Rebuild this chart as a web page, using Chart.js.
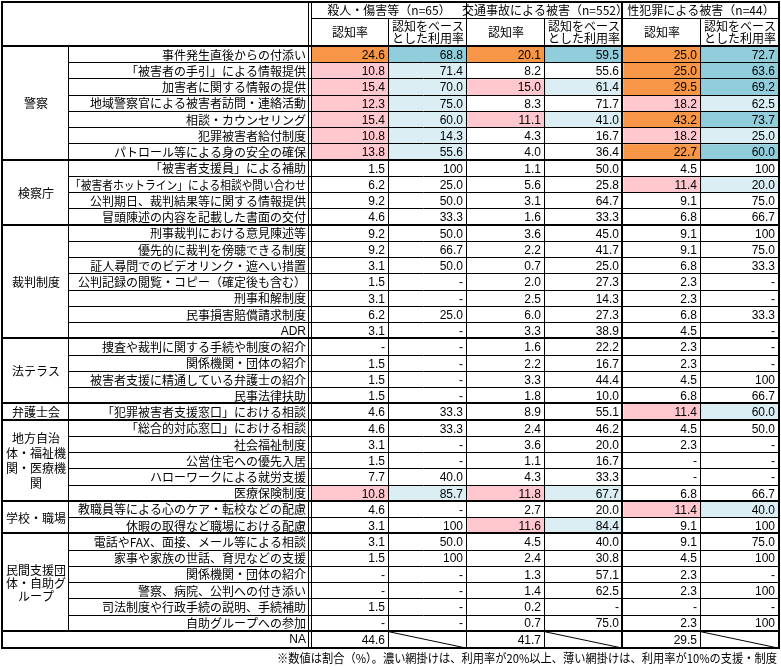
<!DOCTYPE html>
<html lang="ja">
<head>
<meta charset="utf-8">
<script src="https://cdn.jsdelivr.net/npm/chart.js@4.4.0/dist/chart.umd.min.js"></script>
<style>
  html, body { margin: 0; padding: 0; background: #fff; }
  #wrap { width: 781px; height: 667px; }
</style>
</head>
<body>
<div id="wrap"><canvas id="tableChart" width="781" height="667"></canvas></div>
<script>
// left column groups and how many rows each one spans
const groupNames = ["警察", "検察庁", "裁判制度", "法テラス", "弁護士会", "地方自治\n体・福祉機\n関・医療機\n関", "学校・職場", "民間支援団\n体・自助グ\nループ"];
const groupSizes = [7, 4, 7, 4, 1, 5, 2, 6];

const itemLabels = [
    "事件発生直後からの付添い", "「被害者の手引」による情報提供", "加害者に関する情報の提供", "地域警察官による被害者訪問・連絡活動",
    "相談・カウンセリング", "犯罪被害者給付制度", "パトロール等による身の安全の確保",
    "「被害者支援員」による補助", "「被害者ホットライン」による相談や問い合わせ", "公判期日、裁判結果等に関する情報提供", "冒頭陳述の内容を記載した書面の交付",
    "刑事裁判における意見陳述等", "優先的に裁判を傍聴できる制度", "証人尋問でのビデオリンク・遮へい措置", "公判記録の閲覧・コピー（確定後も含む）",
    "刑事和解制度", "民事損害賠償請求制度", "ADR",
    "捜査や裁判に関する手続や制度の紹介", "関係機関・団体の紹介", "被害者支援に精通している弁護士の紹介", "民事法律扶助",
    "「犯罪被害者支援窓口」における相談",
    "「総合的対応窓口」における相談", "社会福祉制度", "公営住宅への優先入居", "ハローワークによる就労支援", "医療保険制度",
    "教職員等による心のケア・転校などの配慮", "休暇の取得など職場における配慮",
    "電話やFAX、面接、メール等による相談", "家事や家族の世話、育児などの支援", "関係機関・団体の紹介", "警察、病院、公判への付き添い",
    "司法制度や行政手続の説明、手続補助", "自助グループへの参加"
];

// null = "-"
const murderAware = [24.6, 10.8, 15.4, 12.3, 15.4, 10.8, 13.8, 1.5, 6.2, 9.2, 4.6, 9.2, 9.2, 3.1, 1.5, 3.1, 6.2, 3.1,
    null, 1.5, 1.5, 1.5, 4.6, 4.6, 3.1, 1.5, 7.7, 10.8, 4.6, 3.1, 3.1, 1.5, null, null, 1.5, null];
const murderUse = [68.8, 71.4, 70.0, 75.0, 60.0, 14.3, 55.6, 100, 25.0, 50.0, 33.3, 50.0, 66.7, 50.0, null, null, 25.0, null,
    null, null, null, null, 33.3, 33.3, null, null, 40.0, 85.7, null, 100, 50.0, 100, null, null, null, null];
const trafficAware = [20.1, 8.2, 15.0, 8.3, 11.1, 4.3, 4.0, 1.1, 5.6, 3.1, 1.6, 3.6, 2.2, 0.7, 2.0, 2.5, 6.0, 3.3,
    1.6, 2.2, 3.3, 1.8, 8.9, 2.4, 3.6, 1.1, 4.3, 11.8, 2.7, 11.6, 4.5, 2.4, 1.3, 1.4, 0.2, 0.7];
const trafficUse = [59.5, 55.6, 61.4, 71.7, 41.0, 16.7, 36.4, 50.0, 25.8, 64.7, 33.3, 45.0, 41.7, 25.0, 27.3, 14.3, 27.3, 38.9,
    22.2, 16.7, 44.4, 10.0, 55.1, 46.2, 20.0, 16.7, 33.3, 67.7, 20.0, 84.4, 40.0, 30.8, 57.1, 62.5, null, 75.0];
const sexAware = [25.0, 25.0, 29.5, 18.2, 43.2, 18.2, 22.7, 4.5, 11.4, 9.1, 6.8, 9.1, 9.1, 6.8, 2.3, 2.3, 6.8, 4.5,
    2.3, 2.3, 4.5, 6.8, 11.4, 4.5, 2.3, null, null, 6.8, 11.4, 9.1, 9.1, 4.5, 2.3, 2.3, null, 2.3];
const sexUse = [72.7, 63.6, 69.2, 62.5, 73.7, 25.0, 60.0, 100, 20.0, 75.0, 66.7, 100, 75.0, 33.3, null, null, 33.3, null,
    null, null, 100, 66.7, 60.0, 50.0, null, null, null, 66.7, 40.0, 100, 75.0, 100, null, 100, null, 100];

// NA row: only the awareness columns have a value
const naAware = [44.6, 41.7, 29.5];

const crimeTypes = ["殺人・傷害等（n=65）", "交通事故による被害（n=552）", "性犯罪による被害（n=44）"];
const subHeaders = ["認知率", "認知をベース\nとした利用率"];
const footnote = "※数値は割合（%）。濃い網掛けは、利用率が20%以上、薄い網掛けは、利用率が10%の支援・制度";

const JP = '"Noto Sans CJK JP", "Noto Sans", sans-serif';
const NUM = '"Liberation Sans", Arial, sans-serif';

function awareColor(v) {
    if (v !== null && v >= 20) return "#F79646";
    if (v !== null && v >= 10) return "#FFC7CE";
    return "#FFFFFF";
}
function useColor(aware) {
    if (aware !== null && aware >= 20) return "#92CDDC";
    if (aware !== null && aware >= 10) return "#DAEEF3";
    return "#FFFFFF";
}
function fmt(v) {
    if (v === null || v === undefined) return "-";
    if (v === 100) return "100";
    return v.toFixed(1);
}

const rowLabels = itemLabels.concat(["NA"]);
const columns = [
    { values: murderAware.concat([naAware[0]]), aware: murderAware },
    { values: murderUse.concat([undefined]), aware: murderAware, use: true },
    { values: trafficAware.concat([naAware[1]]), aware: trafficAware },
    { values: trafficUse.concat([undefined]), aware: trafficAware, use: true },
    { values: sexAware.concat([naAware[2]]), aware: sexAware },
    { values: sexUse.concat([undefined]), aware: sexAware, use: true }
];

const datasets = columns.map((col, c) => ({
    label: "col" + c,
    values: col.values,
    data: col.values.map(v => v === undefined ? null : [c, c + 1]),
    backgroundColor: col.values.map((v, r) => {
        if (r >= itemLabels.length) return "#FFFFFF";
        return col.use ? useColor(col.aware[r]) : awareColor(v);
    }),
    borderWidth: 0,
    barPercentage: 1,
    categoryPercentage: 1,
    grouped: false
}));

function hline(ctx, y, x1, x2, w) {
    ctx.lineWidth = w;
    const yy = w % 2 ? Math.round(y) + 0.5 : Math.round(y);
    ctx.beginPath(); ctx.moveTo(x1, yy); ctx.lineTo(x2, yy); ctx.stroke();
}
function vline(ctx, x, y1, y2, w) {
    ctx.lineWidth = w;
    const xx = w % 2 ? Math.round(x) + 0.5 : Math.round(x);
    ctx.beginPath(); ctx.moveTo(xx, y1); ctx.lineTo(xx, y2); ctx.stroke();
}

const tablePlugin = {
    id: "tableDraw",
    beforeDraw(chart) {
        const ctx = chart.ctx;
        ctx.save();
        ctx.fillStyle = "#fff";
        ctx.fillRect(0, 0, chart.width, chart.height);
        ctx.restore();
    },
    afterDatasetsDraw(chart) {
        const { ctx, scales: { x, y } } = chart;
        const nRows = chart.data.labels.length;
        const rowH = (y.bottom - y.top) / nRows;
        const rowTop = i => y.getPixelForValue(i) - rowH / 2;
        const rowMid = i => y.getPixelForValue(i);
        const colX = c => x.getPixelForValue(c);
        const left = 2, catRight = 68, itemRight = 308;
        const headTop = 2, headMid = 18;
        const right = colX(6), bottom = y.bottom;

        ctx.save();
        ctx.strokeStyle = "#000";
        ctx.fillStyle = "#000";

        // horizontal lines
        const groupEnds = [];
        groupSizes.reduce((acc, n) => { groupEnds.push(acc + n); return acc + n; }, 0);
        for (let i = 1; i < nRows; i++) {
            if (groupEnds.includes(i)) hline(ctx, rowTop(i) - 1, left, right, 2);
            else hline(ctx, rowTop(i) - 1, catRight, right, 1);
        }
        hline(ctx, y.top - 1, left, right, 2);
        hline(ctx, headMid, colX(0), right, 1);

        // vertical lines
        vline(ctx, catRight, y.top, rowTop(nRows - 1), 1);
        vline(ctx, itemRight, headTop, bottom, 1);
        vline(ctx, colX(0), headTop, bottom, 1);
        [1, 3, 5].forEach(c => vline(ctx, colX(c) - 1, headMid, bottom, 1));
        vline(ctx, colX(2) - 1, headTop, bottom, 1);
        vline(ctx, colX(4) - 1, headTop, bottom, 2);

        // outer border
        ctx.lineWidth = 2;
        ctx.strokeRect(left, headTop, right - left, bottom - headTop);

        // NA diagonals in the usage columns
        ctx.lineWidth = 1;
        [1, 3, 5].forEach(c => {
            ctx.beginPath();
            ctx.moveTo(colX(c), rowTop(nRows - 1));
            ctx.lineTo(colX(c + 1) - 1, bottom);
            ctx.stroke();
        });

        // header text
        ctx.textAlign = "center";
        ctx.textBaseline = "middle";
        ctx.font = "12px " + JP;
        crimeTypes.forEach((t, k) => {
            ctx.fillText(t, (colX(2 * k) + colX(2 * k + 2)) / 2, 10);
        });
        for (let c = 0; c < 6; c++) {
            const lines = subHeaders[c % 2].split("\n");
            const cx = (colX(c) + colX(c + 1)) / 2;
            const cy = (headMid + y.top) / 2;
            lines.forEach((ln, j) => {
                ctx.fillText(ln, cx, cy + (j - (lines.length - 1) / 2) * 12.5, 76);
            });
        }

        // group labels
        let start = 0;
        groupNames.forEach((g, k) => {
            const lines = g.split("\n");
            const cy = (rowTop(start) + rowTop(start + groupSizes[k])) / 2;
            const lh = lines.length > 3 ? 15 : 13;
            lines.forEach((ln, j) => {
                ctx.fillText(ln, (left + catRight) / 2 + 1, cy + (j - (lines.length - 1) / 2) * lh, 62);
            });
            start += groupSizes[k];
        });

        // item labels
        ctx.textAlign = "right";
        chart.data.labels.forEach((lab, r) => {
            ctx.font = (lab === "ADR" || lab === "NA" ? "12px " + NUM : "12px " + JP);
            ctx.fillText(lab, itemRight - 2, rowMid(r), 236);
        });

        // values
        ctx.font = "12px " + NUM;
        chart.data.datasets.forEach((ds, c) => {
            ds.values.forEach((v, r) => {
                if (v === undefined) return;
                ctx.fillText(fmt(v), colX(c + 1) - 4, rowMid(r) + 0.5);
            });
        });

        // footnote
        ctx.font = "12px " + JP;
        ctx.fillText(footnote, 777, bottom + 10, 500);
        ctx.restore();
    }
};

const tableChart = new Chart(document.getElementById("tableChart"), {
    type: "bar",
    data: { labels: rowLabels, datasets: datasets },
    options: {
        indexAxis: "y",
        responsive: false,
        animation: false,
        devicePixelRatio: 1,
        layout: { padding: { left: 0, right: 2, top: 47, bottom: 19 } },
        plugins: { legend: { display: false }, tooltip: { enabled: false } },
        scales: {
            x: { type: "linear", min: 0, max: 6, display: false },
            y: {
                type: "category",
                grid: { display: false },
                border: { display: false },
                ticks: { display: false },
                afterFit: scale => { scale.width = 311; }
            }
        }
    },
    plugins: [tablePlugin]
});
</script>
</body>
</html>
